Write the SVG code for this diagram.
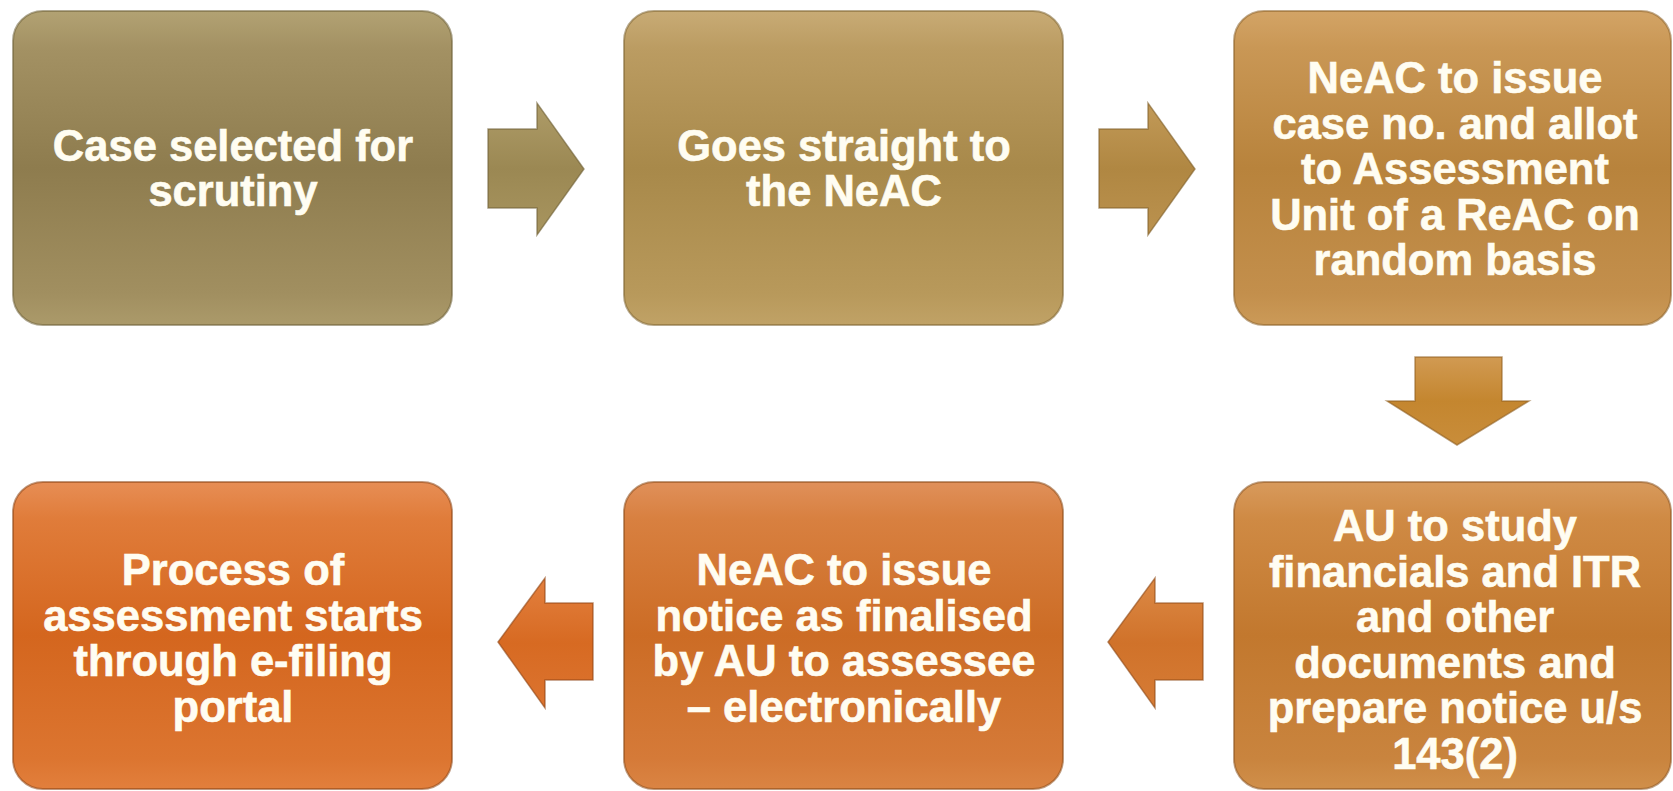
<svg xmlns="http://www.w3.org/2000/svg" width="1673" height="791" viewBox="0 0 1673 791">
<defs>
<linearGradient id="g1" x1="0" y1="0" x2="0" y2="1">
<stop offset="0" stop-color="#b2a273"/><stop offset="0.12" stop-color="#a39163"/><stop offset="0.5" stop-color="#8e7c4e"/><stop offset="0.9" stop-color="#a18f60"/><stop offset="1" stop-color="#ab9a6a"/>
</linearGradient>
<linearGradient id="g2" x1="0" y1="0" x2="0" y2="1">
<stop offset="0" stop-color="#c8ab75"/><stop offset="0.12" stop-color="#bb9c62"/><stop offset="0.5" stop-color="#a8894a"/><stop offset="0.9" stop-color="#b8995b"/><stop offset="1" stop-color="#c0a266"/>
</linearGradient>
<linearGradient id="g3" x1="0" y1="0" x2="0" y2="1">
<stop offset="0" stop-color="#d3a466"/><stop offset="0.12" stop-color="#c99755"/><stop offset="0.5" stop-color="#b8833c"/><stop offset="0.9" stop-color="#c38f4c"/><stop offset="1" stop-color="#cb9a58"/>
</linearGradient>
<linearGradient id="g6" x1="0" y1="0" x2="0" y2="1">
<stop offset="0" stop-color="#d89a5c"/><stop offset="0.12" stop-color="#cf8a44"/><stop offset="0.5" stop-color="#c2782e"/><stop offset="0.9" stop-color="#c9843e"/><stop offset="1" stop-color="#d08f4a"/>
</linearGradient>
<linearGradient id="g5" x1="0" y1="0" x2="0" y2="1">
<stop offset="0" stop-color="#e0905a"/><stop offset="0.12" stop-color="#d88040"/><stop offset="0.5" stop-color="#cc6c25"/><stop offset="0.9" stop-color="#d57a38"/><stop offset="1" stop-color="#da8443"/>
</linearGradient>
<linearGradient id="g4" x1="0" y1="0" x2="0" y2="1">
<stop offset="0" stop-color="#e78e55"/><stop offset="0.12" stop-color="#e07c3a"/><stop offset="0.5" stop-color="#d4661e"/><stop offset="0.9" stop-color="#dc7530"/><stop offset="1" stop-color="#e27f3c"/>
</linearGradient>
<linearGradient id="a1" x1="0" y1="0" x2="0" y2="1">
<stop offset="0" stop-color="#ae9c68"/><stop offset="0.5" stop-color="#9b8853"/><stop offset="1" stop-color="#a8955f"/>
</linearGradient>
<linearGradient id="a2" x1="0" y1="0" x2="0" y2="1">
<stop offset="0" stop-color="#c29a58"/><stop offset="0.5" stop-color="#b08742"/><stop offset="1" stop-color="#bb924f"/>
</linearGradient>
<linearGradient id="a3" x1="0" y1="0" x2="0" y2="1">
<stop offset="0" stop-color="#d19a52"/><stop offset="0.5" stop-color="#c4862f"/><stop offset="1" stop-color="#c98d3a"/>
</linearGradient>
<linearGradient id="a4" x1="0" y1="0" x2="0" y2="1">
<stop offset="0" stop-color="#dc8a46"/><stop offset="0.5" stop-color="#d0722a"/><stop offset="1" stop-color="#d67c36"/>
</linearGradient>
<linearGradient id="a5" x1="0" y1="0" x2="0" y2="1">
<stop offset="0" stop-color="#e3803f"/><stop offset="0.5" stop-color="#d76a22"/><stop offset="1" stop-color="#dc7430"/>
</linearGradient>
</defs>
<style>
.box{stroke-width:2;stroke-opacity:0.55}
.arr{stroke-width:1.5;stroke-opacity:0.6;stroke-linejoin:miter}
.t{font-family:"Liberation Sans",Arial,sans-serif;font-weight:bold;font-size:43.5px;fill:#fffdf2;stroke:#fffdf2;stroke-width:0.6;text-anchor:middle}
</style>
<rect width="1673" height="791" fill="#ffffff"/>
<g id="connectors">
<polygon class="arr" fill="url(#a1)" stroke="#6e5f36" points="488,129 537,129 537,103 584,169 537,235 537,208 488,208"/>
<polygon class="arr" fill="url(#a2)" stroke="#7e5f2a" points="1099,129 1148,129 1148,103 1195,169 1148,235 1148,208 1099,208"/>
<polygon class="arr" fill="url(#a3)" stroke="#8e5d20" points="1415,357 1502,357 1502,401 1529,401 1457,445 1387,401 1415,401"/>
<polygon class="arr" fill="url(#a4)" stroke="#8e4a18" points="1203,603 1155,603 1155,578 1108,642 1155,708 1155,680 1203,680"/>
<polygon class="arr" fill="url(#a5)" stroke="#8e4414" points="593,603 545,603 545,578 498,642 545,708 545,680 593,680"/>
</g>
<g id="node1">
<rect class="box" x="13" y="11" width="439" height="314" rx="30" fill="url(#g1)" stroke="#6e6038"/>
<text class="t" x="233" y="161">Case selected for</text>
<text class="t" x="233" y="206">scrutiny</text>
</g>
<g id="node2">
<rect class="box" x="624" y="11" width="439" height="314" rx="30" fill="url(#g2)" stroke="#7e6532"/>
<text class="t" x="844" y="161">Goes straight to</text>
<text class="t" x="844" y="206">the NeAC</text>
</g>
<g id="node3">
<rect class="box" x="1234" y="11" width="437" height="314" rx="30" fill="url(#g3)" stroke="#8a6028"/>
<text class="t" x="1455" y="93">NeAC to issue</text>
<text class="t" x="1455" y="138.5">case no. and allot</text>
<text class="t" x="1455" y="184">to Assessment</text>
<text class="t" x="1455" y="229.5">Unit of a ReAC on</text>
<text class="t" x="1455" y="275">random basis</text>
</g>
<g id="node6">
<rect class="box" x="1234" y="482" width="437" height="307" rx="30" fill="url(#g6)" stroke="#8a5420"/>
<text class="t" x="1455" y="541">AU to study</text>
<text class="t" x="1455" y="586.5">financials and ITR</text>
<text class="t" x="1455" y="632">and other</text>
<text class="t" x="1455" y="677.5">documents and</text>
<text class="t" x="1455" y="723">prepare notice u/s</text>
<text class="t" x="1455" y="768.5">143(2)</text>
</g>
<g id="node5">
<rect class="box" x="624" y="482" width="439" height="307" rx="30" fill="url(#g5)" stroke="#8a4a18"/>
<text class="t" x="844" y="585">NeAC to issue</text>
<text class="t" x="844" y="630.5">notice as finalised</text>
<text class="t" x="844" y="676">by AU to assessee</text>
<text class="t" x="844" y="721.5">– electronically</text>
</g>
<g id="node4">
<rect class="box" x="13" y="482" width="439" height="307" rx="30" fill="url(#g4)" stroke="#8a4414"/>
<text class="t" x="233" y="585">Process of</text>
<text class="t" x="233" y="630.5">assessment starts</text>
<text class="t" x="233" y="676">through e-filing</text>
<text class="t" x="233" y="721.5">portal</text>
</g>
</svg>
